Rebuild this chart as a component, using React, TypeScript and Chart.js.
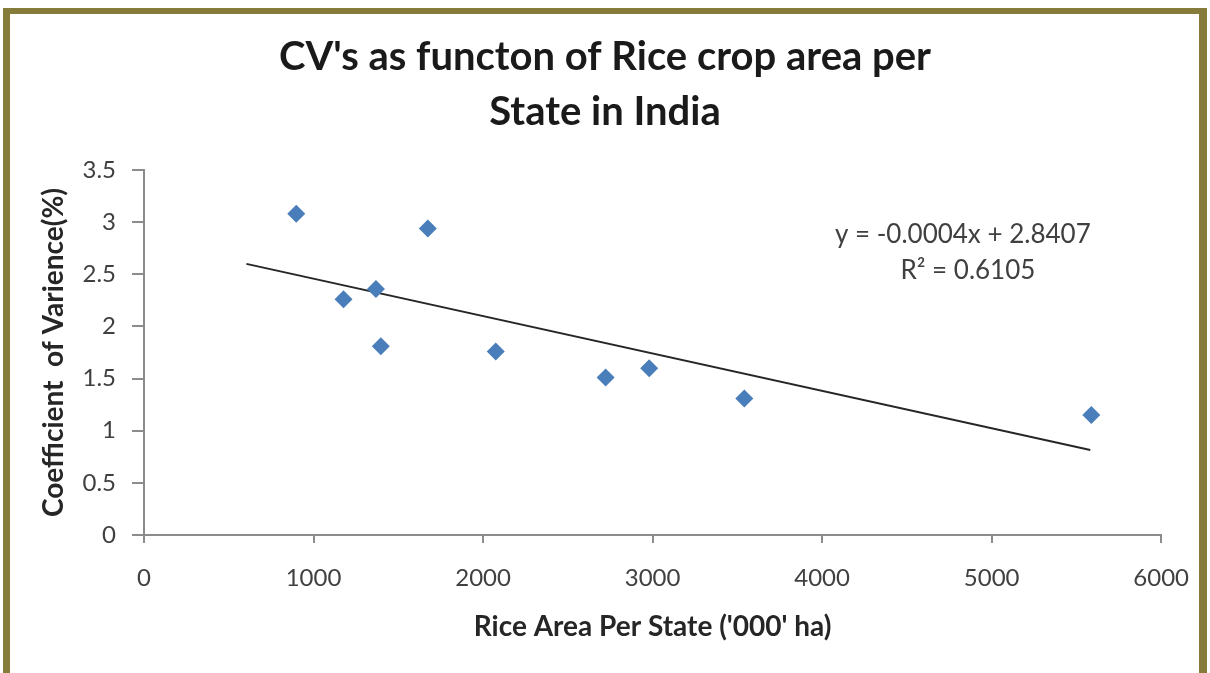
import React, { useEffect, useRef } from "react";
import { Chart, registerables } from "chart.js";

Chart.register(...registerables);

const titleLines = ["CV's as functon of Rice crop area per", "State in India"];
const xAxisTitle = "Rice Area Per State ('000' ha)";
const yAxisTitle = "Coefficient  of Varience(%)";
const equationLines = ["y = -0.0004x + 2.8407", "R\u00B2 = 0.6105"];

const riceArea = [898, 1177, 1368, 1397, 1674, 2075, 2723, 2980, 3541, 5588];
const cvValues = [3.08, 2.26, 2.36, 1.81, 2.94, 1.76, 1.51, 1.6, 1.31, 1.15];

const trendX = [604, 5582];
const trendY = [2.6, 0.815];

const xTicks = [0, 1000, 2000, 3000, 4000, 5000, 6000];
const yTicks = [0, 0.5, 1, 1.5, 2, 2.5, 3, 3.5];

const FONT = "Lato, 'Open Sans', sans-serif";

const equationPlugin = {
  id: "equationText",
  afterDatasetsDraw(chart: any) {
    const { ctx, chartArea } = chart;
    const w = chartArea.right - chartArea.left;
    const h = chartArea.bottom - chartArea.top;
    ctx.save();
    ctx.font = `26px ${FONT}`;
    ctx.fillStyle = "#404040";
    ctx.textAlign = "center";
    ctx.textBaseline = "middle";
    ctx.fillText(equationLines[0], chartArea.left + 0.805 * w, chartArea.top + 0.177 * h);
    ctx.fillText(equationLines[1], chartArea.left + 0.81 * w, chartArea.top + 0.275 * h);
    ctx.restore();
  },
};

export default function App() {
  const canvasRef = useRef<HTMLCanvasElement | null>(null);

  useEffect(() => {
    if (!canvasRef.current) return;
    const chart = new Chart(canvasRef.current, {
      type: "scatter",
      data: {
        datasets: [
          {
            label: "CV",
            data: riceArea.map((x, i) => ({ x, y: cvValues[i] })),
            pointStyle: "rectRot",
            pointRadius: 9,
            pointHoverRadius: 9,
            backgroundColor: "#4a7ebb",
            borderColor: "#4a7ebb",
            borderWidth: 0,
          },
          {
            label: "Trend",
            data: trendX.map((x, i) => ({ x, y: trendY[i] })),
            showLine: true,
            pointRadius: 0,
            borderColor: "#262626",
            borderWidth: 2,
            fill: false,
          },
        ],
      },
      options: {
        responsive: false,
        animation: false,
        devicePixelRatio: 1,
        layout: { padding: { left: 48, right: 48, top: 0, bottom: 0 } },
        plugins: {
          legend: { display: false },
          tooltip: { enabled: false },
          title: {
            display: true,
            text: titleLines,
            color: "#1a1a1a",
            font: { family: FONT, size: 40, weight: "bold", lineHeight: 55 / 40 },
            padding: { top: 30, bottom: 30 },
          },
        },
        scales: {
          x: {
            type: "linear",
            min: 0,
            max: 6000,
            afterFit: (s: any) => {
              s.height = 138;
            },
            afterBuildTicks: (s: any) => {
              s.ticks = xTicks.map((v) => ({ value: v }));
            },
            ticks: {
              color: "#404040",
              font: { family: FONT, size: 24 },
              padding: 21,
              callback: (v: any) => String(v),
            },
            grid: {
              display: true,
              drawOnChartArea: false,
              drawTicks: true,
              tickLength: 8,
              color: "#8c8c8c",
              lineWidth: 2,
            },
            border: { display: true, color: "#8c8c8c", width: 2 },
            title: {
              display: true,
              text: xAxisTitle,
              color: "#262626",
              font: { family: FONT, size: 28, weight: "bold", lineHeight: 1.2 },
              padding: { top: 0, bottom: 29 },
            },
          },
          y: {
            type: "linear",
            min: 0,
            max: 3.5,
            afterFit: (s: any) => {
              s.width = 96;
            },
            afterBuildTicks: (s: any) => {
              s.ticks = yTicks.map((v) => ({ value: v }));
            },
            ticks: {
              color: "#404040",
              font: { family: FONT, size: 24 },
              padding: 16,
              callback: (v: any) => String(v),
            },
            grid: {
              display: true,
              drawOnChartArea: false,
              drawTicks: true,
              tickLength: 12,
              color: "#8c8c8c",
              lineWidth: 2,
            },
            border: { display: true, color: "#8c8c8c", width: 2 },
            title: {
              display: true,
              text: yAxisTitle,
              color: "#262626",
              font: { family: FONT, size: 28, weight: "bold", lineHeight: 0.4 },
              padding: { top: 0, bottom: 0 },
            },
          },
        },
      },
      plugins: [equationPlugin],
    } as any);
    return () => chart.destroy();
  }, []);

  return (
    <div style={{ position: "absolute", left: 0, top: 0, width: 1210, height: 673, background: "#ffffff", overflow: "hidden" }}>
      <canvas ref={canvasRef} width={1210} height={673} style={{ display: "block", width: 1210, height: 673 }} />
      <div
        style={{
          position: "absolute",
          left: 3,
          top: 8,
          width: 1204,
          height: 665,
          boxSizing: "border-box",
          borderTop: "6px solid #857b3b",
          borderLeft: "7px solid #857b3b",
          borderRight: "8px solid #857b3b",
          pointerEvents: "none",
        }}
      />
    </div>
  );
}
